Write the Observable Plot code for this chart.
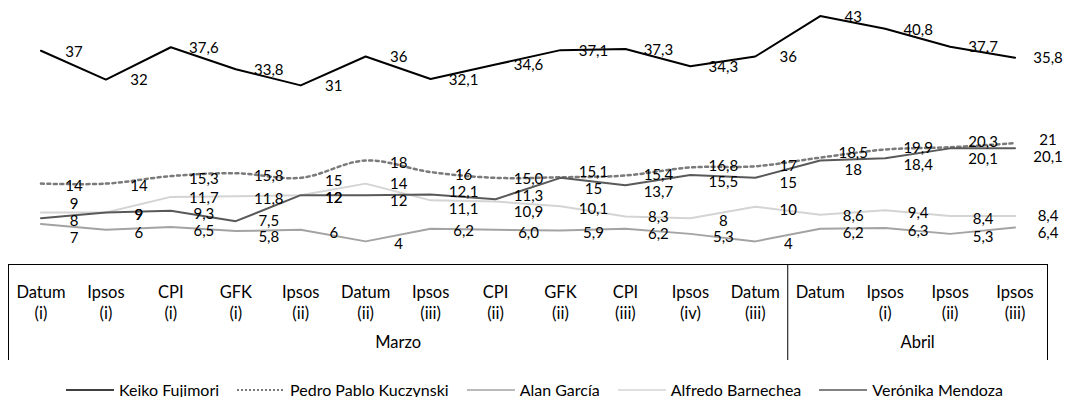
<!DOCTYPE html>
<html>
<head>
<meta charset="utf-8">
<script src="https://cdn.jsdelivr.net/npm/d3@7"></script>
<script src="https://cdn.jsdelivr.net/npm/@observablehq/plot@0.6"></script>
<style>
  html, body { margin: 0; padding: 0; background: #fff; }
  body { width: 1069px; height: 397px; overflow: hidden; font-family: Lato, "Noto Sans", sans-serif; }
  #legend { height: 35px; box-sizing: border-box; padding-top: 20px; display: flex; justify-content: center; align-items: center; font-size: 16px; color: #000; }
  #legend .item { display: flex; align-items: center; margin: 0 9px; white-space: nowrap; }
  #legend svg { margin-right: 5px; }
</style>
</head>
<body>
<div id="chart"></div>
<div id="legend"></div>
<script>
// ---- Data ----
const sources = ["Datum\n(i)", "Ipsos\n(i)", "CPI\n(i)", "GFK\n(i)", "Ipsos\n(ii)", "Datum\n(ii)", "Ipsos\n(iii)", "CPI\n(ii)", "GFK\n(ii)", "CPI\n(iii)", "Ipsos\n(iv)", "Datum\n(iii)", "Datum", "Ipsos\n(i)", "Ipsos\n(ii)", "Ipsos\n(iii)"];
const months = ["Marzo", "Marzo", "Marzo", "Marzo", "Marzo", "Marzo", "Marzo", "Marzo", "Marzo", "Marzo", "Marzo", "Marzo", "Abril", "Abril", "Abril", "Abril"];
const keiko     = ["37", "32", "37,6", "33,8", "31", "36", "32,1", "34,6", "37,1", "37,3", "34,3", "36", "43", "40,8", "37,7", "35,8"];
const ppk       = ["14", "14", "15,3", "15,8", "15", "18", "16", "15,0", "15,1", "15,4", "16,8", "17", "18,5", "19,9", "20,3", "21"];
const garcia    = ["7", "6", "6,5", "5,8", "6", "4", "6,2", "6,0", "5,9", "6,2", "5,3", "4", "6,2", "6,3", "5,3", "6,4"];
const barnechea = ["9", "9", "11,7", "11,8", "12", "14", "11,1", "10,9", "10,1", "8,3", "8", "10", "8,6", "9,4", "8,4", "8,4"];
const mendoza   = ["8", "9", "9,3", "7,5", "12", "12", "12,1", "11,3", "15", "13,7", "15,5", "15", "18", "18,4", "20,1", "20,1"];
const seriesNames = ["Keiko Fujimori", "Pedro Pablo Kuczynski", "Alan García", "Alfredo Barnechea", "Verónika Mendoza"];

// ---- Styles ----
const series = [
  {name: seriesNames[0], values: keiko,     stroke: "#000000", width: 2,   dash: null,    curve: "linear"},
  {name: seriesNames[1], values: ppk,       stroke: "#7a7a7a", width: 2.5, dash: "3 3.5", curve: "catmull-rom"},
  {name: seriesNames[2], values: garcia,    stroke: "#a3a3a3", width: 2,   dash: null,    curve: "linear"},
  {name: seriesNames[3], values: barnechea, stroke: "#d4d4d4", width: 2,   dash: null,    curve: "linear"},
  {name: seriesNames[4], values: mendoza,   stroke: "#595959", width: 2,   dash: null,    curve: "linear"}
];

const n = sources.length;
const num = s => +s.replace(",", ".");
const rows = series.flatMap(s => s.values.map((t, i) => ({series: s.name, i, text: t, value: num(t)})));

// ---- Label layout: spread overlapping labels in each column (data units) ----
const GAP = 2.9;
const others = [];
for (let i = 0; i < n; i++) {
  const items = rows.filter(r => r.i === i && r.series !== seriesNames[0]).sort((a, b) => b.value - a.value);
  const slots = [];
  for (const it of items) {
    const last = slots[slots.length - 1];
    if (last && last.text === it.text) last.items.push(it);
    else slots.push({text: it.text, v: it.value, items: [it]});
  }
  let blocks = slots.map(s => ({slots: [s]}));
  const place = b => {
    const c = d3.mean(b.slots, s => s.v);
    const m = b.slots.length;
    b.slots.forEach((s, k) => s.pos = c + ((m - 1) / 2 - k) * GAP);
  };
  blocks.forEach(place);
  let changed = true;
  while (changed) {
    changed = false;
    for (let k = 0; k < blocks.length - 1; k++) {
      const up = blocks[k], lo = blocks[k + 1];
      if (up.slots[up.slots.length - 1].pos - lo.slots[0].pos < GAP) {
        const merged = {slots: up.slots.concat(lo.slots)};
        place(merged);
        blocks.splice(k, 2, merged);
        changed = true;
        break;
      }
    }
  }
  for (const s of slots) for (const it of s.items) others.push({...it, ly: s.pos});
}

// ---- Category axis helpers ----
const catRows = sources.map((label, i) => ({i, label}));
const monthNames = Array.from(new Set(months));
const monthRows = monthNames.map(m => {
  const idx = months.map((mm, i) => mm === m ? i : -1).filter(i => i >= 0);
  return {month: m, first: d3.min(idx), last: d3.max(idx), center: (d3.min(idx) + d3.max(idx)) / 2};
});
const boundaries = monthRows.map(m => m.first - 0.5).concat([d3.max(monthRows, m => m.last) + 0.5]);

const W = 1069, H = 362, mTop = 4, mBottom = 98, boxDepth = 96;
const frameH = H - mTop - mBottom;

const chart = Plot.plot({
  width: W,
  height: H,
  marginLeft: 8,
  marginRight: 22,
  marginTop: mTop,
  marginBottom: mBottom,
  style: {fontFamily: "Lato, 'Noto Sans', sans-serif", background: "#fff", color: "#000"},
  x: {type: "linear", domain: [-0.5, n - 0.5], axis: null},
  y: {domain: [0, 45], axis: null},
  marks: [
    ...series.map(s => Plot.line(rows.filter(r => r.series === s.name), {
      x: "i", y: "value", stroke: s.stroke, strokeWidth: s.width,
      strokeDasharray: s.dash || undefined, curve: s.curve
    })),
    Plot.text(rows.filter(r => r.series === seriesNames[0]), {x: "i", y: "value", text: "text", dx: 33, dy: 1, fontSize: 15, fill: "#000"}),
    Plot.text(others, {x: "i", y: "ly", text: "text", dx: 33, dy: 3, fontSize: 15, fill: "#000"}),
    // category "table" axis
    Plot.ruleY([0], {stroke: "#000", strokeWidth: 1}),
    Plot.ruleX(boundaries, {x: d => d, stroke: "#000", strokeWidth: 1, insetTop: frameH, insetBottom: -boxDepth}),
    Plot.text(catRows, {x: "i", text: "label", frameAnchor: "bottom", lineAnchor: "top", dy: 18, fontSize: 16.5, lineHeight: 1.3, fill: "#000"}),
    Plot.text(monthRows, {x: "center", text: "month", frameAnchor: "bottom", dy: 83, fontSize: 16.5, fill: "#000"})
  ]
});
document.getElementById("chart").appendChild(chart);

// ---- Legend ----
const legend = document.getElementById("legend");
for (const s of series) {
  const item = document.createElement("span");
  item.className = "item";
  const dash = s.dash ? `stroke-dasharray="2 2"` : "";
  item.innerHTML = `<svg width="48" height="6"><line x1="0" x2="48" y1="3" y2="3" stroke="${s.stroke}" stroke-width="${s.dash ? 2 : 1.5}" ${dash}/></svg><span>${s.name}</span>`;
  legend.appendChild(item);
}
</script>
</body>
</html>
